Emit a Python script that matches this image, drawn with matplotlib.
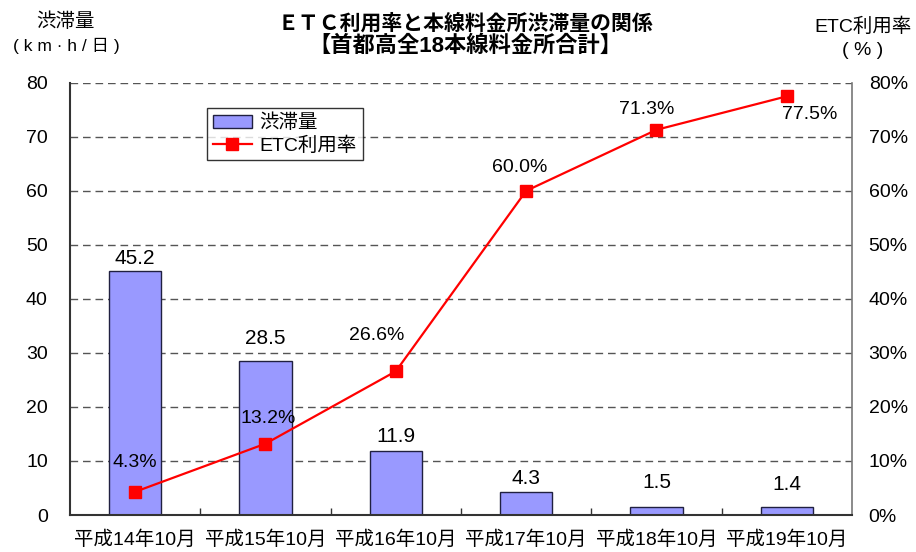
import numpy as np
import matplotlib.pyplot as plt

plt.rcParams['font.family'] = ['Liberation Sans', 'Noto Sans CJK JP']

months = ['平成14年10月', '平成15年10月', '平成16年10月', '平成17年10月', '平成18年10月', '平成19年10月']
jam = [45.2, 28.5, 11.9, 4.3, 1.5, 1.4]
etc_rate = [4.3, 13.2, 26.6, 60.0, 71.3, 77.5]

fig = plt.figure(figsize=(9.16, 5.52), dpi=100)
ax = fig.add_axes([0.0764, 0.067, 0.8537, 0.783])
x = np.arange(len(months))

for y in range(10, 81, 10):
    ax.axhline(y, color='#555555', linestyle=(0, (5.5, 3.5)), linewidth=1.0, zorder=0)

bars = ax.bar(x, jam, width=0.4, color='#9999ff', edgecolor='#202040', linewidth=1.0,
              label='渋滞量', zorder=2)
# vertical label offsets (points) above each bar
bar_dy = [8.6, 16, 10, 9.5, 17.5, 16.5]
for xi, v, dy in zip(x, jam, bar_dy):
    ax.annotate(f'{v}', (xi, v), xytext=(0, dy), textcoords='offset points',
                ha='center', va='center', fontsize=15)

ax.set_xlim(-0.5, len(months) - 0.5)
ax.set_ylim(0, 80)
ax.set_yticks(range(0, 81, 10))
ax.set_xticks(x)
ax.set_xticklabels(months, fontsize=14)
ax.tick_params(axis='y', length=0, labelsize=14, pad=16)
ax.tick_params(axis='x', length=0, pad=11)
ax.set_xticks(np.arange(0.5, len(months) - 1, 1), minor=True)
ax.tick_params(axis='x', which='minor', direction='in', length=5, width=1, color='#333333')
ax.spines['top'].set_visible(False)
ax.spines['right'].set_color('#777777')
ax.spines['right'].set_linewidth(1.2)
for s in ['left', 'bottom']:
    ax.spines[s].set_color('#333333')
    ax.spines[s].set_linewidth(1.5)

ax2 = ax.twinx()
ax2.set_ylim(0, 80)
ax2.set_yticks(range(0, 81, 10))
ax2.set_yticklabels([f'{v}%' for v in range(0, 81, 10)])
ax2.tick_params(axis='y', length=0, labelsize=14, pad=12)
line, = ax2.plot(x, etc_rate, color='red', linewidth=1.6, marker='s', markersize=9,
                 label='ETC利用率', zorder=3)
for s in ax2.spines.values():
    s.set_visible(False)

# label offsets in points (dx, dy) relative to each marker
offsets = [(0, 21), (2, 18), (-14, 26), (-5, 16.5), (-7, 14.5), (16.5, -13)]
for xi, v, (dx, dy) in zip(x, etc_rate, offsets):
    ax2.annotate(f'{v:.1f}%', (xi, v), xytext=(dx, dy), textcoords='offset points',
                 ha='center', va='center', fontsize=14)

leg = ax2.legend([bars, line], ['渋滞量', 'ETC利用率'], loc='upper left',
                 bbox_to_anchor=(0.175, 0.942), fontsize=14, frameon=True, fancybox=False,
                 edgecolor='black', borderpad=0.3, handlelength=2.0, labelspacing=0.2,
                 handletextpad=0.4, borderaxespad=0)
leg.get_frame().set_linewidth(1.0)

fig.text(0.508, 0.957, 'ＥＴＣ利用率と本線料金所渋滞量の関係', ha='center', va='center',
         fontsize=15, fontweight='bold')
fig.text(0.508, 0.917, '【首都高全18本線料金所合計】', ha='center', va='center',
         fontsize=16, fontweight='bold')
fig.text(0.072, 0.96, '渋滞量', ha='center', va='center', fontsize=14)
fig.text(0.072, 0.917, '( k m · h / 日 )', ha='center', va='center', fontsize=12.5)
fig.text(0.942, 0.951, 'ETC利用率', ha='center', va='center', fontsize=14)
fig.text(0.942, 0.909, '( % )', ha='center', va='center', fontsize=14)

plt.savefig('out.png', dpi=100)
